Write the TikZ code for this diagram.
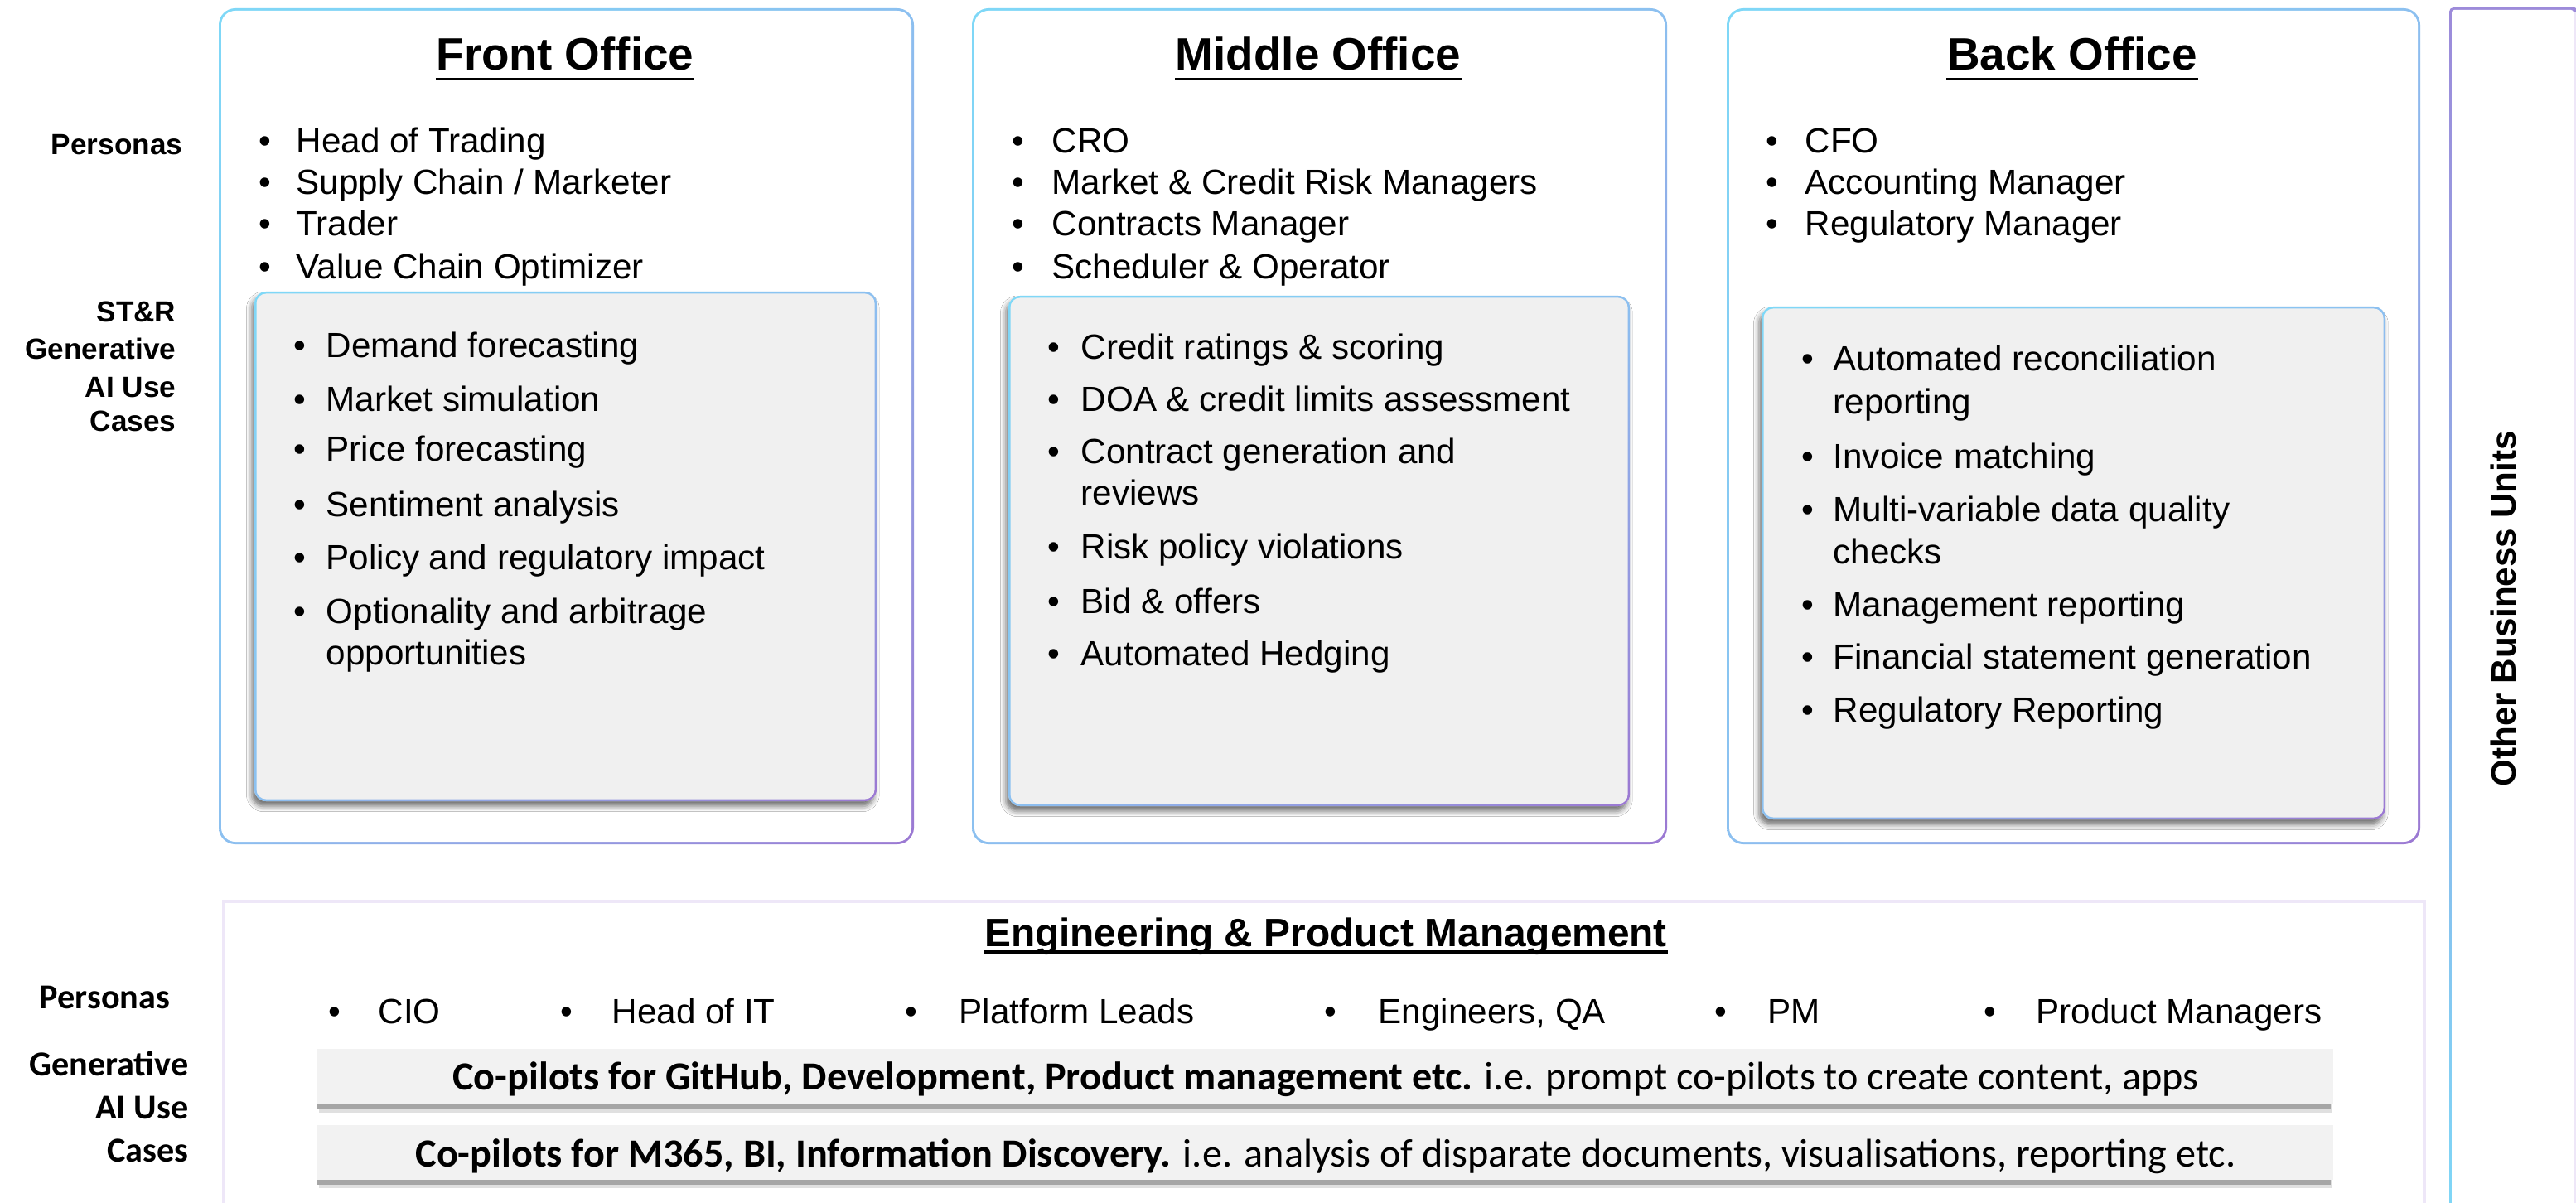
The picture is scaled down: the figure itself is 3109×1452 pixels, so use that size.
\documentclass[tikz,border=0pt]{standalone}
\usepackage{fontspec}
\setmainfont{Liberation Sans}
\newfontfamily\calfont{Carlito}
\usetikzlibrary{shadows.blur,shadings}
\definecolor{cy}{HTML}{7FD8F7}
\definecolor{midc}{HTML}{8CC0F0}
\definecolor{pu}{HTML}{9B78D2}
\definecolor{obutop}{HTML}{9D8BDA}
\definecolor{innerfill}{HTML}{F0F0F0}
\definecolor{barfill}{HTML}{F2F2F2}
\definecolor{lav}{HTML}{EEE7F8}

\newcommand\outerbox[4]{%
  \shade[upper left=cy, upper right=midc, lower left=midc, lower right=pu, rounded corners=0.2cm] (#1,#2) rectangle (#3,#4);
  \fill[white, rounded corners=0.17cm] (#1+3,#2+3) rectangle (#3-3,#4-3);}
\newcommand\innerbox[4]{%
  \fill[innerfill, rounded corners=0.14cm, blur shadow={shadow xshift=-0.9pt, shadow yshift=-1.8pt, shadow blur radius=1.8pt, shadow opacity=55}] (#1,#2) rectangle (#3,#4);
  \shade[upper left=cy, upper right=midc, lower left=midc, lower right=pu, rounded corners=0.14cm] (#1,#2) rectangle (#3,#4);
  \fill[innerfill, rounded corners=0.115cm] (#1+2.5,#2+2.5) rectangle (#3-2.5,#4-2.5);}
\newcommand\barbox[4]{%
  \fill[black!12] (#1+2,#4) rectangle (#3-1,#4+10);
  \fill[black!35] (#1,#4-2) rectangle (#3-3,#4+6);
  \fill[barfill] (#1,#2) rectangle (#3,#4);}
\newcommand\bitem[5]{%
  \node[bul] (#1b) at (#2,#4) {•};
  \node[txt] (#1) at (#3,#4) {#5};}

\begin{document}
\begin{tikzpicture}[x=0.01cm,y=-0.01cm,
  txt/.style={font=\fontsize{12}{14}\selectfont, inner sep=0pt, anchor=base west},
  bul/.style={font=\fontsize{12}{14}\selectfont, inner sep=0pt, anchor=base},
  lbl/.style={font=\bfseries\fontsize{10}{12}\selectfont, inner sep=0pt, anchor=base east},
  lblc/.style={font=\calfont\bfseries\fontsize{12}{14}\selectfont, inner sep=0pt, anchor=base east},
  ttl/.style={font=\bfseries\fontsize{15.6}{18}\selectfont, inner sep=0pt, anchor=base},
  ul/.style={line width=1.1pt},
  bartxt/.style={font=\calfont\fontsize{13.7}{16}\selectfont, inner sep=0pt, anchor=base}]

\useasboundingbox (0,0) rectangle (3109,1452);
\fill[white] (0,0) rectangle (3109,1452);

% ---------- Other Business Units ----------
\shade[top color=obutop, middle color=midc, bottom color=cy, rounded corners=0.05cm] (2956,9) rectangle (3112,1480);
\fill[white, rounded corners=0.03cm] (2959,12) rectangle (3106,1480);
\fill[lav] (3106,14) rectangle (3112,1480);
\node[rotate=90, font=\bfseries\fontsize{12}{14}\selectfont, inner sep=0pt] (obu) at (3021,735) {Other Business Units};

% ---------- office boxes ----------
\outerbox{264}{10}{1103}{1019}
\outerbox{1173}{10}{2012}{1019}
\outerbox{2084}{10}{2921}{1019}
\innerbox{307}{352}{1058}{967}
\innerbox{1217}{357}{1967}{973}
\innerbox{2126}{370}{2879}{989}

% ---------- left labels (top) ----------
\node[lbl] (lp) at (221,187) {Personas};
\node[lbl] (lu1) at (213,389) {ST\&R};
\node[lbl] (lu2) at (213,434) {Generative};
\node[lbl] (lu3) at (213,479) {AI Use};
\node[lbl] (lu4) at (213,521) {Cases};

% ---------- titles ----------
\node[ttl] (fot) at (682,85) {Front Office};
\draw[ul] ([yshift=-3pt]fot.base west) -- ([yshift=-3pt]fot.base east);
\node[ttl] (mot) at (1591,85) {Middle Office};
\draw[ul] ([yshift=-3pt]mot.base west) -- ([yshift=-3pt]mot.base east);
\node[ttl] (bot) at (2501,85) {Back Office};
\draw[ul] ([yshift=-3pt]bot.base west) -- ([yshift=-3pt]bot.base east);

% ---------- personas ----------
\bitem{fp1}{320}{357}{185}{Head of Trading}
\bitem{fp2}{320}{357}{235}{Supply Chain / Marketer}
\bitem{fp3}{320}{357}{285}{Trader}
\bitem{fp4}{320}{357}{337}{Value Chain Optimizer}
\bitem{mp1}{1229}{1269}{185}{CRO}
\bitem{mp2}{1229}{1269}{235}{Market \& Credit Risk Managers}
\bitem{mp3}{1229}{1269}{285}{Contracts Manager}
\bitem{mp4}{1229}{1269}{337}{Scheduler \& Operator}
\bitem{bp1}{2139}{2178}{185}{CFO}
\bitem{bp2}{2139}{2178}{235}{Accounting Manager}
\bitem{bp3}{2139}{2178}{285}{Regulatory Manager}

% ---------- use cases ----------
\bitem{fu1}{362}{393}{432}{Demand forecasting}
\bitem{fu2}{362}{393}{496}{Market simulation}
\bitem{fu3}{362}{393}{557}{Price forecasting}
\bitem{fu4}{362}{393}{623}{Sentiment analysis}
\bitem{fu5}{362}{393}{687}{Policy and regulatory impact}
\bitem{fu6}{362}{393}{752}{Optionality and arbitrage}
\node[txt] (fu6x) at (393,802) {opportunities};

\bitem{mu1}{1272}{1304}{434}{Credit ratings \& scoring}
\bitem{mu2}{1272}{1304}{496}{DOA \& credit limits assessment}
\bitem{mu3}{1272}{1304}{559}{Contract generation and}
\node[txt] (mu3x) at (1304,609) {reviews};
\bitem{mu4}{1272}{1304}{674}{Risk policy violations}
\bitem{mu5}{1272}{1304}{740}{Bid \& offers}
\bitem{mu6}{1272}{1304}{803}{Automated Hedging}

\bitem{bu1}{2182}{2212}{448}{Automated reconciliation}
\node[txt] (bu1x) at (2212,500) {reporting};
\bitem{bu2}{2182}{2212}{565}{Invoice matching}
\bitem{bu3}{2182}{2212}{629}{Multi-variable data quality}
\node[txt] (bu3x) at (2212,680) {checks};
\bitem{bu4}{2182}{2212}{744}{Management reporting}
\bitem{bu5}{2182}{2212}{807}{Financial statement generation}
\bitem{bu6}{2182}{2212}{871}{Regulatory Reporting}

% ---------- Engineering & Product Management ----------
\fill[white] (270,1088) rectangle (2926,1480);
\draw[lav, line width=0.9pt] (270,1088) rectangle (2926,1480);
\node[ttl, font=\bfseries\fontsize{13.6}{16}\selectfont] (ept) at (1600,1142) {Engineering \& Product Management};
\draw[ul] ([yshift=-2pt]ept.base west) -- ([yshift=-2pt]ept.base east);

\node[lblc] (lp2) at (206,1217) {Personas};
\node[lblc] (lg1) at (228,1298) {Generative};
\node[lblc] (lg2) at (228,1350) {AI Use};
\node[lblc] (lg3) at (228,1402) {Cases};

\bitem{e1}{404}{456}{1235}{CIO}
\bitem{e2}{684}{738}{1235}{Head of IT}
\bitem{e3}{1100}{1157}{1235}{Platform Leads}
\bitem{e4}{1606}{1663}{1235}{Engineers, QA}
\bitem{e5}{2077}{2133}{1235}{PM}
\bitem{e6}{2402}{2457}{1235}{Product Managers}

\barbox{383}{1266}{2816}{1333}
\barbox{383}{1358}{2816}{1424}
\node[bartxt] (bt1) at (1600,1315) {{\bfseries Co-pilots for GitHub, Development, Product management etc.} i.e. prompt co-pilots to create content, apps};
\node[bartxt] (bt2) at (1600,1408) {{\bfseries Co-pilots for M365, BI, Information Discovery.} i.e. analysis of disparate documents, visualisations, reporting etc.};
\end{tikzpicture}
\end{document}
